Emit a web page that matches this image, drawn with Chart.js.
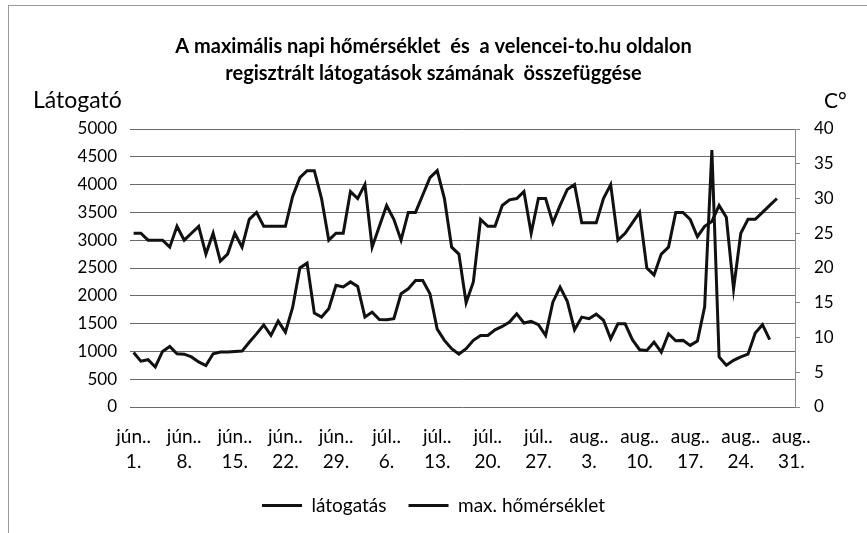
<!DOCTYPE html>
<html>
<head>
<meta charset="utf-8">
<script src="https://cdn.jsdelivr.net/npm/chart.js@4/dist/chart.umd.min.js"></script>
<style>
  html, body { margin: 0; padding: 0; background: #fff; }
  #wrap { position: relative; width: 867px; height: 533px; }
  #frame { position: absolute; left: 8px; top: 5px; right: 0; bottom: 0; border-left: 1px solid #999; border-top: 1px solid #999; }
  canvas { position: absolute; left: 0; top: 0; }
</style>
</head>
<body>
<div id="wrap">
  <div id="frame"></div>
  <canvas id="chart" width="867" height="533"></canvas>
</div>
<script>
// months shown on the axis, with their day counts (jún 1 - aug 31)
const months = ["jún..", "júl..", "aug.."];
const monthDays = [30, 31, 31];

// daily visits (left axis)
const visits = [
    980, 825, 850, 720, 1000, 1090, 958, 950, 900, 810,
    745, 958, 990, 990, 1000, 1005, 1165, 1315, 1475, 1287,
    1545, 1347, 1790, 2500, 2587, 1689, 1617, 1766, 2190, 2160,
    2250, 2168, 1617, 1707, 1575, 1569, 1587, 2036, 2126, 2275,
    2275, 2036, 1400, 1198, 1048, 950, 1050, 1200, 1287, 1287,
    1389, 1449, 1527, 1677, 1510, 1540, 1480, 1287, 1886, 2155,
    1900, 1390, 1617, 1587, 1670, 1560, 1228, 1497, 1497, 1210,
    1030, 1018, 1168, 988, 1317, 1190, 1198, 1108, 1186, 1800,
    4620, 900, 750, 840, 900, 950, 1330, 1480, 1210, null,
    null, null
];

// daily max temperature, °C (right axis)
const maxTemp = [
    25, 25, 24, 24, 24, 23, 26, 24, 25, 26,
    22, 25, 21, 22, 25, 23, 27, 28, 26, 26,
    26, 26, 30.3, 33, 34, 34, 30, 24, 25, 25,
    31, 30, 32, 23, 26, 29, 27, 24, 28, 28,
    30.5, 33, 34, 30, 23, 22, 15, 18, 27, 26,
    26, 29, 29.8, 30, 31, 25, 30, 30, 26.5, 29,
    31.3, 32, 26.5, 26.5, 26.5, 30, 32, 24, 25, 26.5,
    28, 20, 19, 22, 23, 28, 28, 27, 24.5, 26,
    26.7, 29, 27.3, 17, 25, 27, 27, 28, 29, 30,
    null, null
];

const seriesNames = ["látogatás", "max. hőmérséklet"];
const visitTicks = [0, 500, 1000, 1500, 2000, 2500, 3000, 3500, 4000, 4500, 5000];
const tempTicks = [0, 5, 10, 15, 20, 25, 30, 35, 40];

const days = [];
months.forEach((m, mi) => {
    for (let d = 1; d <= monthDays[mi]; d++) days.push([m, d + "."]);
});

const font = "Lato, 'Liberation Sans', sans-serif";
const gridColor = "#6a6a6a";

const axisTitles = {
    id: "axisTitles",
    afterDraw(chart) {
        const ctx = chart.ctx;
        const top = chart.chartArea.top;
        ctx.save();
        ctx.fillStyle = "#000";
        ctx.font = "23px " + font;
        ctx.textBaseline = "middle";
        ctx.textAlign = "left";
        ctx.fillText("Látogató", 33, top - 28);
        ctx.font = "21px " + font;
        ctx.fillText("C°", 824, top - 28);
        ctx.restore();
    }
};

new Chart(document.getElementById("chart"), {
    type: "line",
    data: {
        labels: days,
        datasets: [{
            label: seriesNames[0],
            data: visits,
            yAxisID: "y",
            borderColor: "#111",
            backgroundColor: "#111",
            borderWidth: 3,
            pointRadius: 0,
            tension: 0
        }, {
            label: seriesNames[1],
            data: maxTemp,
            yAxisID: "y1",
            borderColor: "#111",
            backgroundColor: "#111",
            borderWidth: 3,
            pointRadius: 0,
            tension: 0
        }]
    },
    options: {
        responsive: false,
        animation: false,
        layout: { padding: { left: 0, right: 0, top: 0, bottom: 8 } },
        scales: {
            x: {
                offset: true,
                grid: { display: false, drawTicks: false },
                border: { display: false },
                ticks: {
                    autoSkip: false,
                    maxRotation: 0,
                    padding: 18,
                    color: "#000",
                    font: { family: font, size: 19, lineHeight: 1.3 },
                    callback(value, index) {
                        return index % 7 === 0 ? days[index] : "";
                    }
                },
                afterFit(scale) { scale.height = 67; }
            },
            y: {
                position: "left",
                min: 0,
                max: 5000,
                afterBuildTicks(scale) { scale.ticks = visitTicks.map(v => ({ value: v })); },
                grid: { color: gridColor, lineWidth: 1, drawTicks: false },
                border: { display: false },
                ticks: {
                    padding: 13,
                    color: "#000",
                    font: { family: font, size: 17 },
                    callback(value) { return String(value); }
                },
                afterFit(scale) { scale.width = 130; }
            },
            y1: {
                position: "right",
                min: 0,
                max: 40,
                afterBuildTicks(scale) { scale.ticks = tempTicks.map(v => ({ value: v })); },
                grid: { drawOnChartArea: false, color: "#888", tickLength: 5 },
                border: { display: true, color: "#888" },
                ticks: {
                    padding: 14,
                    color: "#000",
                    font: { family: font, size: 17 },
                    callback(value) { return String(value); }
                },
                afterFit(scale) { scale.width = 72; }
            }
        },
        plugins: {
            title: {
                display: true,
                text: [
                    "A maximális napi hőmérséklet  és  a velencei-to.hu oldalon",
                    "regisztrált látogatások számának  összefüggése"
                ],
                color: "#000",
                font: { family: font, size: 20, weight: "bold", lineHeight: 1.35 },
                padding: { top: 33, bottom: 42 }
            },
            legend: {
                position: "bottom",
                labels: {
                    usePointStyle: true,
                    pointStyle: "line",
                    pointStyleWidth: 40,
                    padding: 22,
                    color: "#000",
                    font: { family: font, size: 19 }
                }
            },
            tooltip: { enabled: false }
        }
    },
    plugins: [axisTitles]
});
</script>
</body>
</html>
